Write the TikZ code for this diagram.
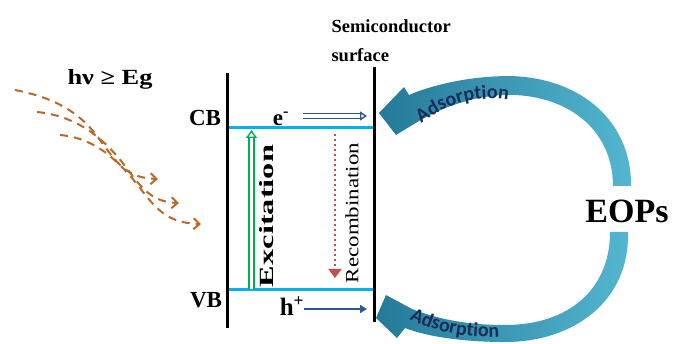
\documentclass[tikz,border=0pt]{standalone}
\usepackage{fontspec}
\usepackage{graphicx}
\setmainfont{Liberation Serif}
\newfontfamily\adsfont{Carlito}
\usetikzlibrary{arrows.meta,decorations.text}

\definecolor{bandblue}{RGB}{0,176,240}
\definecolor{excgreen}{RGB}{0,176,80}
\definecolor{recred}{RGB}{192,80,77}
\definecolor{carrier}{RGB}{47,85,151}
\definecolor{photon}{RGB}{184,104,40}
\definecolor{adslight}{RGB}{84,182,208}
\definecolor{adsdark}{RGB}{36,122,152}
\definecolor{adsink}{RGB}{25,45,90}

\tikzset{
  wall/.style={line width=3pt},
  band/.style={bandblue, line width=3pt},
  lbl/.style={font=\bfseries\fontsize{23}{23}\selectfont, inner sep=0pt},
  ray/.style={photon, line width=2pt, dash pattern=on 8pt off 6pt,
    -{Straight Barb[length=6pt,width=11pt]}},
  hollow/.style={double=white, double distance=3.5pt, line width=1.4pt},
  adsarrow/.style={left color=adsdark, right color=adslight},
  adstext/.style={decorate, decoration={text along path, text align=center,
    text color=adsink, text={|\adsfont\bfseries\fontsize{20}{20}\selectfont|Adsorption}}},
}

\begin{document}
\begin{tikzpicture}[x=1pt,y=-1pt]
\useasboundingbox (0,0) rectangle (674,344);

% light
\node[font=\bfseries, inner sep=0pt] (light) at (110,79) {\resizebox{85pt}{15pt}{hν ≥ Eg}};
\draw[ray] (15,90) .. controls (55,98) and (80,112) .. (100,140) .. controls (118,165) and (128,178) .. (158,179);
\draw[ray] (37,112) .. controls (75,116) and (100,135) .. (122,162) .. controls (140,186) and (150,202) .. (179,203);
\draw[ray] (60,135) .. controls (95,138) and (118,160) .. (140,188) .. controls (158,212) and (170,223) .. (201,224);

% semiconductor
\coordinate (lwt) at (227,73);
\coordinate (lwb) at (227,328);
\coordinate (rwt) at (374,67);
\coordinate (rwb) at (374,322);
\coordinate (cbl) at (227,128);
\coordinate (cbr) at (374,128);
\coordinate (vbl) at (227,290);
\coordinate (vbr) at (374,290);
\draw[band] (cbl) -- (cbr);
\draw[band] (vbl) -- (vbr);
\draw[wall] (lwt) -- (lwb);
\draw[wall] (rwt) -- (rwb);

\node[anchor=base west, font=\bfseries\fontsize{18.5}{18.5}\selectfont] (semi) at (328,33) {Semiconductor};
\node[anchor=base west, font=\bfseries\fontsize{18.5}{18.5}\selectfont] (surf) at (328,62) {surface};

\node[lbl] (cb) at (205,118) {CB};
\node[lbl] (vb) at (206,300) {VB};
\node[lbl] (elec) at (281,119) {e\textsuperscript{-}};
\node[lbl, font=\bfseries\fontsize{25}{25}\selectfont] (hole) at (292,306) {h\textsuperscript{+}};

% carriers
\coordinate (eout) at (367,116);
\coordinate (hout) at (367,309);
\draw[hollow, carrier, -{Triangle[open, length=7pt, width=9pt]}] (303,116) -- (eout);
\draw[carrier, line width=2.5pt, -{Triangle[length=7pt, width=8pt]}] (304,309) -- (hout);

% excitation and recombination
\coordinate (exlow) at (251.5,289);
\coordinate (exup) at (251.5,130);
\coordinate (reup) at (335,134);
\coordinate (relow) at (335,278);
\draw[hollow, excgreen, -{Triangle[open, length=8pt, width=11pt]}] (exlow) -- (exup);
\draw[recred, line width=2.5pt, dash pattern=on 2.5pt off 2.5pt, -{Triangle[length=9pt, width=13pt]}] (reup) -- (relow);
\node[rotate=90, font=\bfseries, inner sep=0pt] (exc) at (267,216) {\resizebox{142pt}{14pt}{Excitation}};
\node[rotate=90, inner sep=0pt] (rec) at (352,213) {\resizebox{140pt}{13pt}{Recombination}};

% adsorption
\shade[adsarrow] (631,186) .. controls (632,125) and (585,78) .. (510,76) .. controls (470,76) and (432,85) .. (409,95) -- (404,87) -- (379,113) -- (396,135) -- (414,124) .. controls (445,105) and (480,94) .. (515,95) .. controls (575,98) and (613,135) .. (613,186) -- cycle;
\shade[adsarrow] (628,232) .. controls (630,300) and (575,342) .. (505,342) .. controls (465,342) and (428,337) .. (405,328) -- (397,338) -- (376,318) -- (386,295) -- (412,309) .. controls (440,320) and (470,325) .. (505,325) .. controls (568,325) and (610,290) .. (610,232) -- cycle;
\path[adstext] (412,131) .. controls (442,103) and (482,92) .. (520,103);
\path[adstext] (400,314) .. controls (432,333) and (470,340) .. (510,336);

\node[font=\bfseries\fontsize{34}{34}\selectfont] (eops) at (627,211) {EOPs};
\end{tikzpicture}
\end{document}
